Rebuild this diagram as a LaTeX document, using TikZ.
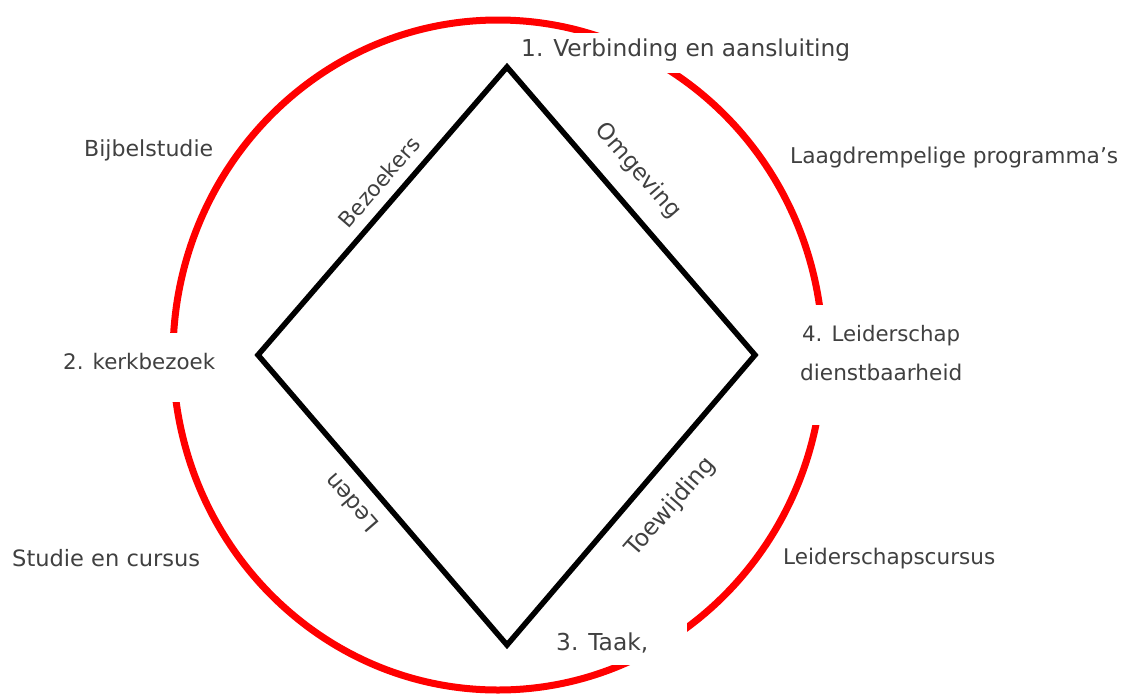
\documentclass[tikz,border=0pt]{standalone}
\usepackage{fontspec}
\usepackage{graphicx}
\setmainfont{DejaVu Sans}
\definecolor{ringred}{HTML}{FF0000}
\definecolor{txtgray}{HTML}{404040}
\newcommand{\fitw}[2]{\resizebox{#1pt}{!}{#2}}
\begin{document}
\begin{tikzpicture}[x=1pt,y=-1pt,
  lbl/.style={font=\fontsize{22}{26}\selectfont, text=txtgray, anchor=west, inner sep=0pt},
  edgelbl/.style={font=\fontsize{22}{26}\selectfont, text=txtgray, inner sep=0pt},
  mask/.style={fill=white, draw=none},
  ring/.style={draw=ringred, line width=7pt},
  diamondline/.style={draw=black, line width=5.5pt, line join=miter}]
\useasboundingbox (0,0) rectangle (1128,697);
% red ring
\draw[ring] (498,355) ellipse [x radius=325, y radius=335];
% white masks behind labels
\fill[mask] (510,33) rectangle (860,73);
\fill[mask] (50,333) rectangle (232,402);
\fill[mask] (790,305) rectangle (975,425);
\fill[mask] (540,615) rectangle (687,665);
% diamond
\coordinate (T) at (507,67);
\coordinate (R) at (755,355);
\coordinate (B) at (507,645);
\coordinate (L) at (258,355);
\draw[diamondline] (T) -- (R) -- (B) -- (L) -- cycle;
% corner labels
\node[lbl] (n1) at (521,50) {\fitw{329}{1. Verbinding en aansluiting}};
\node[lbl] (n2) at (63,362) {\fitw{152}{2. kerkbezoek}};
\node[lbl] (n3) at (556,643) {\fitw{92}{3. Taak,}};
\node[lbl] (n4a) at (802,336) {\fitw{158}{4. Leiderschap}};
\node[lbl] (n4b) at (800,372) {\fitw{162}{dienstbaarheid}};
% outer labels
\node[lbl] (bs) at (84,150) {\fitw{129}{Bijbelstudie}};
\node[lbl] (lp) at (790,158) {\fitw{328}{Laagdrempelige programma’s}};
\node[lbl] (sc) at (12,558) {\fitw{188}{Studie en cursus}};
\node[lbl] (lc) at (783,559) {\fitw{212}{Leiderschapscursus}};
% edge labels
\node[edgelbl, rotate=49] (bz) at (379,182) {\fitw{111}{Bezoekers}};
\node[edgelbl, rotate=-49] (om) at (638,171) {\fitw{118}{Omgeving}};
\node[edgelbl, rotate=131] (ld) at (351,503) {\fitw{69}{Leden}};
\node[edgelbl, rotate=49] (tw) at (671,507) {\fitw{123}{Toewijding}};
\end{tikzpicture}
\end{document}
